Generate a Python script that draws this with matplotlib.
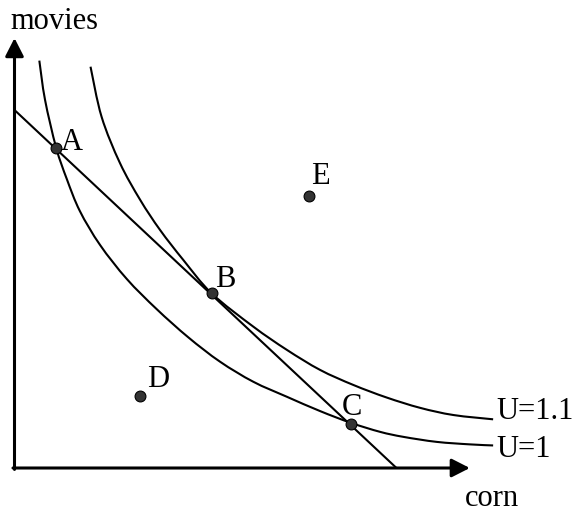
import matplotlib
matplotlib.use("Agg")
import matplotlib.pyplot as plt
from matplotlib.path import Path
from matplotlib.patches import PathPatch

# ---- data ----
corn_u1 = [0.65, 0.80, 1.09, 1.37, 1.71, 2.24, 2.94, 3.72, 4.55, 5.38, 6.25,
           7.13, 8.00, 8.81, 9.57, 10.18, 11.05, 11.92, 12.53]
movies_u1 = [11.38, 10.28, 8.95, 8.07, 7.18, 6.23, 5.28, 4.44, 3.65, 2.97, 2.41,
             1.99, 1.59, 1.26, 1.01, 0.87, 0.73, 0.66, 0.63]

corn_u11 = [1.99, 2.28, 2.76, 3.29, 3.81, 4.42, 5.16, 6.25, 7.13, 8.00, 8.87,
            9.74, 10.62, 11.49, 12.53]
movies_u11 = [11.21, 9.81, 8.52, 7.49, 6.65, 5.81, 4.88, 3.95, 3.30, 2.74, 2.32,
              1.97, 1.68, 1.48, 1.36]

budget_corn = [0.0, 10.0]
budget_movies = [10.0, 0.0]

point_names = ["A", "B", "C", "D", "E"]
point_corn = [1.09, 5.16, 8.80, 3.28, 7.72]
point_movies = [8.95, 4.88, 1.23, 2.01, 7.60]

curve_labels = ["U=1", "U=1.1"]
axis_labels = ["corn", "movies"]
axis_max = [11.92, 12.01]

# ---- style ----
FONT = ["Liberation Serif", "DejaVu Serif"]
FS = 22
plt.rcParams["font.family"] = FONT


def smooth_path(xs, ys):
    """Smooth Bezier path through the read points (Catmull-Rom handles)."""
    pts = list(zip(xs, ys))
    n = len(pts)
    verts = [pts[0]]
    codes = [Path.MOVETO]
    for i in range(n - 1):
        p0 = pts[i - 1] if i > 0 else pts[i]
        p1 = pts[i]
        p2 = pts[i + 1]
        p3 = pts[i + 2] if i + 2 < n else pts[i + 1]
        c1 = (p1[0] + (p2[0] - p0[0]) / 6.0, p1[1] + (p2[1] - p0[1]) / 6.0)
        c2 = (p2[0] - (p3[0] - p1[0]) / 6.0, p2[1] - (p3[1] - p1[1]) / 6.0)
        verts += [c1, c2, p2]
        codes += [Path.CURVE4] * 3
    return Path(verts, codes)


fig = plt.figure(figsize=(5.74, 5.12), dpi=100)
ax = fig.add_axes([0, 0, 1, 1])
ax.set_xlim(-0.3796, 14.647)
ax.set_ylim(-1.229, 13.073)
ax.axis("off")

# axes with arrows
arrow_style = "-|>,head_length=0.55,head_width=0.28"
ax.annotate("", xy=(axis_max[0], 0), xytext=(-0.04, 0),
            arrowprops=dict(arrowstyle=arrow_style, mutation_scale=20, lw=2.2,
                            color="black", shrinkA=0, shrinkB=0))
ax.annotate("", xy=(0, axis_max[1]), xytext=(0, -0.04),
            arrowprops=dict(arrowstyle=arrow_style, mutation_scale=20, lw=2.2,
                            color="black", shrinkA=0, shrinkB=0))

fig.text(465 / 574, 1 - 505.5 / 512, axis_labels[0], fontsize=FS, ha="left",
         va="baseline", family=FONT)
fig.text(10 / 574, 1 - 29.3 / 512, axis_labels[1], fontsize=FS, ha="left",
         va="baseline", family=FONT)

# indifference curves and budget line
for xs, ys in [(corn_u1, movies_u1), (corn_u11, movies_u11)]:
    ax.add_patch(PathPatch(smooth_path(xs, ys), fill=False, edgecolor="black",
                           lw=1.5, capstyle="butt"))
ax.plot(budget_corn, budget_movies, color="black", lw=1.5, solid_capstyle="butt")

# curve labels
ax.annotate(curve_labels[0], xy=(corn_u1[-1], movies_u1[-1]), xytext=(2, -8),
            textcoords="offset points", fontsize=FS, ha="left", va="baseline")
ax.annotate(curve_labels[1], xy=(corn_u11[-1], movies_u11[-1]), xytext=(2, 0.5),
            textcoords="offset points", fontsize=FS, ha="left", va="baseline")

# points
ax.plot(point_corn, point_movies, "o", ms=7.8, mfc="#333333", mec="black",
        mew=0.8, zorder=5)
label_offsets = {"A": (3.4, -1.4), "B": (2.4, 4.8), "C": (-6.5, 6.5),
                 "D": (5.5, 6.5), "E": (1.0, 8.4)}
for name, cx, cy in zip(point_names, point_corn, point_movies):
    ax.annotate(name, xy=(cx, cy), xytext=label_offsets[name],
                textcoords="offset points", fontsize=FS, ha="left",
                va="baseline", zorder=6)

fig.savefig("out.png", dpi=100)
